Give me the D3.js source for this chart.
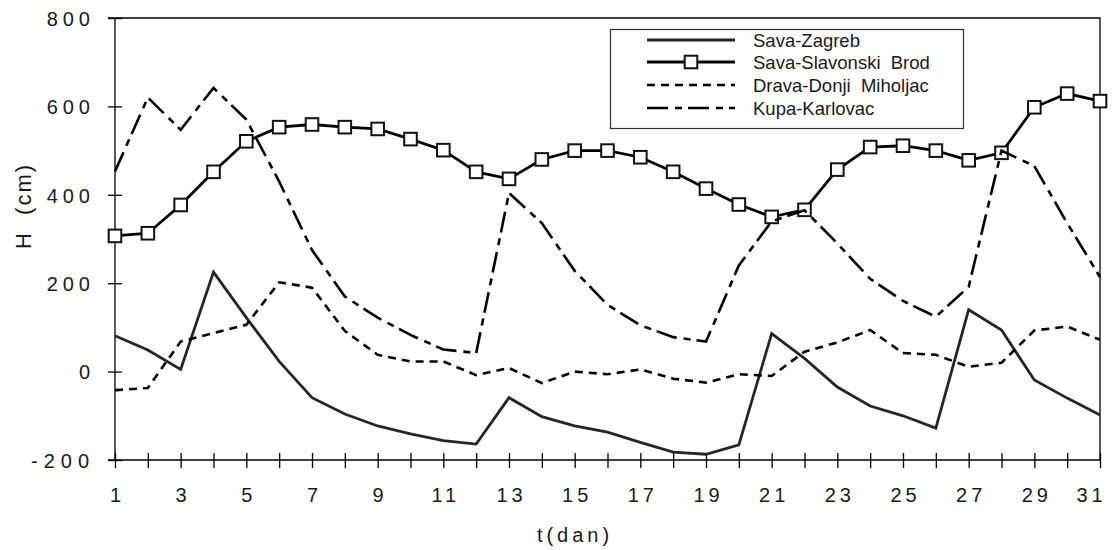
<!DOCTYPE html>
<html>
<head>
<meta charset="utf-8">
<script src="https://cdn.jsdelivr.net/npm/d3@7/dist/d3.min.js"></script>
<style>
  html, body { margin: 0; padding: 0; background: #fff; }
  svg { display: block; }
  text { font-family: "Liberation Sans", Arial, Helvetica, sans-serif; fill: #1a1a1a; }
</style>
</head>
<body>
<svg id="chart" width="1113" height="550"></svg>
<script>
// Daily water levels H (cm), days 1..31
const days = d3.range(1, 32);
const savaZagreb = [81, 49, 5, 225, 122, 23, -59, -96, -123, -141, -156, -164, -59, -102, -123, -137,
  -160, -182, -187, -166, 86, 30, -35, -78, -100, -128, 140, 94, -19, -60, -98];
const savaSlavonskiBrod = [307, 313, 377, 452, 521, 553, 559, 553, 549, 526, 501, 452, 436, 480, 500, 500,
  485, 452, 414, 378, 350, 366, 457, 508, 511, 500, 478, 495, 598, 629, 612];
const dravaDonjiMiholjac = [-42, -37, 68, 87, 106, 202, 190, 92, 38, 23, 23, -8, 8, -26, 0, -6,
  5, -16, -25, -6, -10, 45, 66, 94, 42, 38, 11, 20, 93, 102, 72];
const kupaKarlovac = [453, 620, 547, 642, 570, 430, 275, 170, 122, 83, 50, 42, 404, 336, 228, 151,
  105, 78, 68, 240, 340, 365, 290, 210, 160, 124, 192, 500, 465, 336, 214];

const xTickLabels = d3.range(1, 32, 2);
const yTickValues = [-200, 0, 200, 400, 600, 800];
const seriesNames = ["Sava-Zagreb", "Sava-Slavonski  Brod", "Drava-Donji  Miholjac", "Kupa-Karlovac"];

const svg = d3.select("#chart");
const plotLeft = 115, plotRight = 1100, plotTop = 18, plotBottom = 460;

const x = d3.scaleLinear().domain([1, 31]).range([plotLeft, plotRight]);
const y = d3.scaleLinear().domain([-200, 800]).range([plotBottom, plotTop]);

// line styles per series
const styles = [
  { values: savaZagreb, stroke: "#262626", width: 2.8, dash: null, markers: false },
  { values: savaSlavonskiBrod, stroke: "#000", width: 2.8, dash: null, markers: true },
  { values: dravaDonjiMiholjac, stroke: "#000", width: 2.6, dash: "8,6", markers: false },
  { values: kupaKarlovac, stroke: "#000", width: 2.6, dash: "21,7,7,6", markers: false }
];

// frame (top and right edges)
svg.append("path")
  .attr("d", `M${plotLeft - 7},${plotTop}H${plotRight}V${plotBottom}`)
  .attr("fill", "none").attr("stroke", "#000").attr("stroke-width", 1.3);

// y axis
const yAxis = svg.append("g").attr("transform", `translate(${plotLeft},0)`)
  .call(d3.axisLeft(y).tickValues(yTickValues).tickSize(7).tickFormat(d => String(d)));
yAxis.select(".domain").attr("stroke-width", 1.3).attr("d", `M0,${plotTop}V${plotBottom}`);
yAxis.selectAll(".tick line").attr("x1", -7).attr("x2", 7).attr("stroke-width", 1.3);
yAxis.selectAll(".tick text")
  .attr("x", -20).attr("dy", "0.36em")
  .style("font-size", "20px").style("letter-spacing", "5px")
  .attr("fill", "#1a1a1a");
yAxis.selectAll(".tick text").filter(d => d < 0).style("letter-spacing", "6px");

// x axis
const xAxis = svg.append("g").attr("transform", `translate(0,${plotBottom})`)
  .call(d3.axisBottom(x).tickValues(days).tickSize(8)
    .tickFormat(d => xTickLabels.includes(d) ? d : ""));
xAxis.select(".domain").attr("stroke-width", 1.3).attr("d", `M${plotLeft - 7},0H${plotRight}`);
xAxis.selectAll(".tick line").attr("y1", -7).attr("y2", 8).attr("stroke-width", 1.3);
xAxis.selectAll(".tick text")
  .attr("y", 28).attr("dy", "0.71em")
  .style("font-size", "20px").style("letter-spacing", "4px")
  .attr("dx", d => d === 31 ? "-9px" : "2px")
  .attr("fill", "#1a1a1a");
svg.selectAll(".domain, .tick line").attr("stroke", "#000");

// axis titles
svg.append("text")
  .attr("x", 575).attr("y", 542)
  .attr("text-anchor", "middle")
  .style("font-size", "20px").style("letter-spacing", "4px")
  .text("t(dan)");
svg.append("text")
  .attr("transform", "translate(31,206) rotate(-90)")
  .attr("text-anchor", "middle")
  .style("font-size", "22px").style("letter-spacing", "2px")
  .style("white-space", "pre")
  .text("H  (cm)");

// series lines
const line = d3.line().x((d, i) => x(days[i])).y(d => y(d));
styles.forEach(s => {
  svg.append("path")
    .datum(s.values)
    .attr("d", line)
    .attr("fill", "none")
    .attr("stroke", s.stroke)
    .attr("stroke-width", s.width)
    .attr("stroke-linejoin", "miter")
    .attr("stroke-dasharray", s.dash);
  if (s.markers) {
    svg.append("g").selectAll("rect")
      .data(s.values)
      .join("rect")
      .attr("x", (d, i) => x(days[i]) - 6.3)
      .attr("y", d => y(d) - 6.3)
      .attr("width", 12.6).attr("height", 12.6)
      .attr("fill", "#fff").attr("stroke", "#111").attr("stroke-width", 2);
  }
});

// legend
const legend = svg.append("g");
legend.append("rect")
  .attr("x", 610.5).attr("y", 29.5).attr("width", 353).attr("height", 99)
  .attr("fill", "#fff").attr("stroke", "#333").attr("stroke-width", 1.2);
const rowY = [40, 62, 85, 108];
styles.forEach((s, i) => {
  legend.append("line")
    .attr("x1", 647).attr("x2", 735).attr("y1", rowY[i]).attr("y2", rowY[i])
    .attr("stroke", s.stroke).attr("stroke-width", s.width)
    .attr("stroke-dasharray", s.dash);
  if (s.markers) {
    legend.append("rect")
      .attr("x", 691 - 6.3).attr("y", rowY[i] - 6.3)
      .attr("width", 12.6).attr("height", 12.6)
      .attr("fill", "#fff").attr("stroke", "#111").attr("stroke-width", 2);
  }
  legend.append("text")
    .attr("x", 753).attr("y", rowY[i] + 6.5)
    .style("font-size", "18.5px")
    .style("white-space", "pre")
    .text(seriesNames[i]);
});
</script>
</body>
</html>
